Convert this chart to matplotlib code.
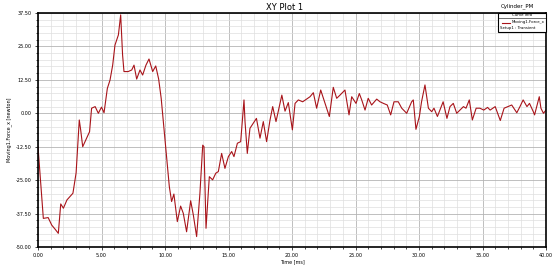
import matplotlib
matplotlib.use("Agg")
import matplotlib.pyplot as plt
from matplotlib.ticker import MultipleLocator, FormatStrFormatter
from matplotlib.patches import Rectangle
from matplotlib.lines import Line2D

time_ms = [0, 0.42, 0.8, 1.08, 1.34, 1.6, 1.79, 2.0, 2.28, 2.75, 3.0, 3.25, 3.36, 3.52, 3.7,
           4.06, 4.22, 4.5, 4.75, 5.0, 5.2, 5.46, 5.67, 5.88, 6.06, 6.33, 6.51, 6.66, 6.77,
           7.1, 7.38, 7.56, 7.77, 8.03, 8.24, 8.5, 8.74, 9.03, 9.27, 9.5, 9.7, 9.87, 10.08,
           10.34, 10.52, 10.7, 10.97, 11.23, 11.44, 11.7, 12.02, 12.23, 12.49, 12.75, 12.97,
           13.07, 13.23, 13.49, 13.75, 14.0, 14.2, 14.46, 14.72, 14.99, 15.25, 15.43, 15.7,
           15.96, 16.22, 16.3, 16.48, 16.69, 16.95, 17.2, 17.48, 17.74, 18.0, 18.27, 18.48,
           18.74, 19.0, 19.2, 19.45, 19.71, 20.03, 20.24, 20.5, 20.84, 21.15, 21.42, 21.68,
           21.94, 22.26, 22.6, 22.94, 23.25, 23.52, 23.78, 24.17, 24.49, 24.7, 25.04, 25.3,
           25.49, 25.75, 26.0, 26.27, 26.67, 26.93, 27.2, 27.5, 27.77, 28.03, 28.37, 28.64,
           29.03, 29.42, 29.55, 29.76, 30.03, 30.2, 30.47, 30.74, 31.0, 31.18, 31.45, 31.65,
           31.9, 32.2, 32.44, 32.7, 32.97, 33.23, 33.5, 33.7, 33.96, 34.2, 34.5, 34.8, 35.1,
           35.4, 35.6, 36.0, 36.4, 36.7, 37.0, 37.3, 37.7, 37.95, 38.2, 38.5, 38.7, 39.0,
           39.1, 39.3, 39.47, 39.6, 39.8, 40.0]
force_x = [-12.5, -39.3, -39.0, -41.8, -43.3, -44.9, -33.9, -35.5, -32.4, -29.9, -22.3, -2.5,
           -6.2, -12.5, -10.6, -6.9, 1.9, 2.5, 0.0, 2.3, 0.2, 9.3, 12.4, 18.0, 25.5, 29.3, 36.8,
           21.8, 15.6, 15.6, 16.2, 18.0, 12.8, 16.2, 14.3, 18.0, 20.3, 15.6, 17.7, 12.8, 5.6,
           -3.1, -14.0, -27.4, -33.0, -30.2, -40.5, -34.7, -37.4, -44.3, -32.7, -38.0, -46.1,
           -29.9, -11.9, -12.5, -43.0, -23.7, -24.9, -22.4, -21.8, -15.0, -20.6, -16.2, -14.3,
           -16.2, -11.2, -10.6, 5.0, -3.1, -15.0, -5.6, -3.7, -1.9, -9.3, -3.1, -10.6, -2.5,
           2.5, -3.1, 2.5, 6.8, 0.8, 4.0, -6.2, 3.7, 5.0, 4.3, 5.3, 6.2, 7.7, 1.9, 8.7, 3.7,
           -1.2, 9.7, 5.6, 6.8, 8.7, -0.6, 6.2, 3.7, 7.4, 5.0, 1.2, 5.6, 3.1, 5.3, 4.3, 3.7,
           3.1, -0.6, 4.3, 4.3, 1.9, 0.0, 4.3, 5.0, -6.0, -1.2, 4.3, 10.6, 1.9, 0.6, 1.9, -1.2,
           1.2, 4.3, -1.9, 2.5, 3.7, 0.0, 1.2, 2.5, 1.9, 5.0, -2.5, 1.9, 1.9, 1.2, 2.2, 1.2,
           2.5, -2.7, 1.9, 2.5, 3.1, 0.2, 2.5, 5.0, 2.5, 3.7, 0.6, -0.6, 3.1, 6.2, 1.9, 0.0, 1.2]

x_ticks = [0, 5, 10, 15, 20, 25, 30, 35, 40]
y_ticks = [-50.0, -37.5, -25.0, -12.5, 0.0, 12.5, 25.0, 37.5]

W, H = 558, 266
LINE_COLOR = "#a8141a"

fig = plt.figure(figsize=(W/100, H/100), dpi=100)
ax = fig.add_axes([38/W, 1-247/H, (546-38)/W, (247-13)/H])

ax.plot(time_ms, force_x, color=LINE_COLOR, lw=0.8)

ax.set_xlim(0, 40)
ax.set_ylim(-50, 37.5)
ax.set_xticks(x_ticks)
ax.set_yticks(y_ticks)
ax.xaxis.set_minor_locator(MultipleLocator(1))
ax.yaxis.set_minor_locator(MultipleLocator(2.5))
ax.xaxis.set_major_formatter(FormatStrFormatter("%.2f"))
ax.yaxis.set_major_formatter(FormatStrFormatter("%.2f"))
ax.grid(which="major", color="#b4b4b4", lw=0.6)
ax.grid(which="minor", color="#dedede", lw=0.5)
ax.set_axisbelow(True)
ax.tick_params(which="both", labelsize=3.5, length=2.5, width=0.5, direction="out", pad=2)
ax.tick_params(which="minor", length=1.5)
for s in ax.spines.values():
    s.set_linewidth(1.2)

ax.set_xlabel("Time [ms]", fontsize=3.5, labelpad=1)
ax.set_ylabel("Moving1.Force_x [newton]", fontsize=3.5, labelpad=3)

def fx(px):
    return px / W

def fy(py):
    return 1 - py / H

fig.text(fx(285), fy(7), "XY Plot 1", ha="center", va="center", fontsize=6)
fig.text(fx(517), fy(6), "Cylinder_PM", ha="center", va="center", fontsize=4)

# legend box (Curve Info)
fig.patches.append(Rectangle((fx(498), fy(32)), fx(546) - fx(498), fy(13) - fy(32),
                             transform=fig.transFigure, facecolor="white",
                             edgecolor="black", lw=0.8, zorder=5))
fig.lines.append(Line2D([fx(498), fx(546)], [fy(18), fy(18)], transform=fig.transFigure,
                        color="black", lw=0.4, zorder=6))
fig.text(fx(522), fy(15.5), "Curve Info", ha="center", va="center", fontsize=2.8, zorder=7)
fig.lines.append(Line2D([fx(502), fx(510)], [fy(22.5), fy(22.5)], transform=fig.transFigure,
                        color=LINE_COLOR, lw=0.8, zorder=6))
fig.text(fx(512), fy(22.5), "Moving1.Force_x", ha="left", va="center", fontsize=2.8, zorder=7)
fig.text(fx(499.5), fy(28), "Setup1 : Transient", ha="left", va="center", fontsize=2.8, zorder=7)

fig.savefig("out.png", dpi=100)
